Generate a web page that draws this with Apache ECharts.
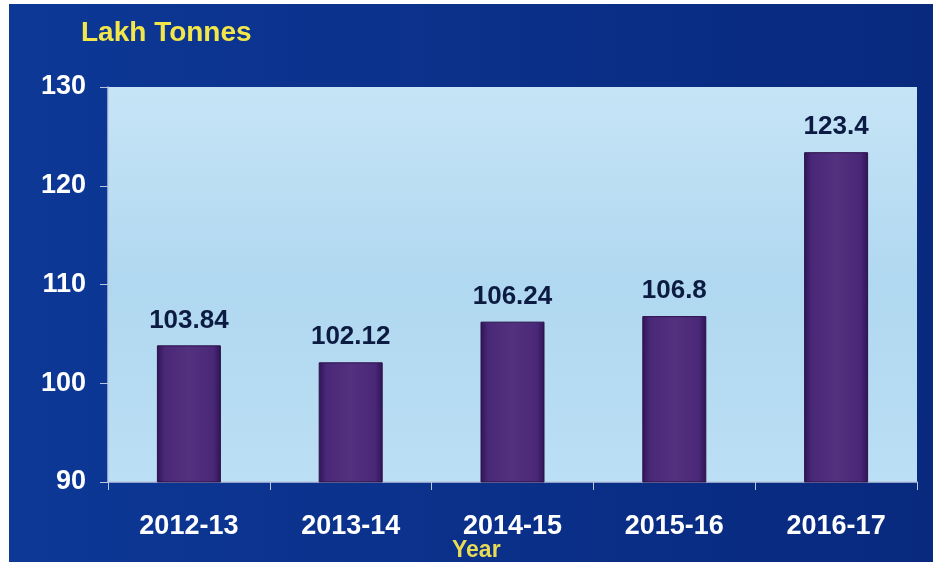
<!DOCTYPE html>
<html>
<head>
<meta charset="utf-8">
<script src="https://cdn.jsdelivr.net/npm/echarts@6/dist/echarts.min.js"></script>
<style>
html,body{margin:0;padding:0;background:#ffffff;}
#c{width:933px;height:562px;}
</style>
</head>
<body>
<div id="c"></div>
<script>
var categories = ['2012-13', '2013-14', '2014-15', '2015-16', '2016-17'];
var production = [103.84, 102.12, 106.24, 106.8, 123.4];
var yTicks = [90, 100, 110, 120, 130];
var yAxisName = 'Lakh Tonnes';
var xAxisName = 'Year';

var chart = echarts.init(document.getElementById('c'), null, {renderer: 'canvas'});
var font = 'Liberation Sans, Arial, sans-serif';
chart.setOption({
  backgroundColor: '#ffffff',
  animation: false,
  graphic: [
    {type: 'rect', z: -10, shape: {x: 9, y: 4, width: 924, height: 558},
     style: {fill: new echarts.graphic.LinearGradient(0, 0, 1, 0, [
       {offset: 0, color: '#0d3896'}, {offset: 1, color: '#08297e'}])}},
    {type: 'text', left: 81, top: 19, z: 10,
     style: {text: yAxisName, fill: '#f2e64a', font: 'bold 28px ' + font}},
    {type: 'text', left: 452, top: 539, z: 10,
     style: {text: xAxisName, fill: '#e9dc55', font: 'bold 23px ' + font}}
  ],
  grid: {
    left: 108, right: 16, top: 87, bottom: 80, show: true,
    backgroundColor: new echarts.graphic.LinearGradient(0, 0, 0, 1, [
      {offset: 0, color: '#c6e4f6'}, {offset: 0.5, color: '#b0d8f0'}, {offset: 1, color: '#bbdff4'}]),
    borderWidth: 0
  },
  xAxis: {
    type: 'category', data: categories,
    axisLine: {lineStyle: {color: '#b8c8e0', width: 1.5}},
    axisTick: {show: true, length: 8, lineStyle: {color: '#b8c8e0'}},
    axisLabel: {color: '#ffffff', fontWeight: 'bold', fontSize: 27, fontFamily: font, margin: 31}
  },
  yAxis: {
    type: 'value', min: yTicks[0], max: yTicks[yTicks.length - 1], interval: 10,
    splitLine: {show: false},
    axisLine: {show: true, lineStyle: {color: '#b8c8e0', width: 1.5}},
    axisTick: {show: true, length: 8, lineStyle: {color: '#b8c8e0'}},
    axisLabel: {color: '#ffffff', fontWeight: 'bold', fontSize: 27, fontFamily: font, margin: 22}
  },
  series: [{
    type: 'bar', data: production, barWidth: 64,
    itemStyle: {
      color: new echarts.graphic.LinearGradient(0, 0, 1, 0, [
        {offset: 0, color: '#2f1456'}, {offset: 0.12, color: '#4a2878'},
        {offset: 0.5, color: '#54317f'}, {offset: 0.88, color: '#4a2878'}, {offset: 1, color: '#2f1456'}]),
      borderColor: '#2a1148', borderWidth: 1
    },
    label: {show: true, position: 'top', distance: 12, color: '#0c1b42', fontWeight: 'bold',
            fontSize: 26, fontFamily: font,
            formatter: function (p) { return String(p.value); }}
  }]
});
</script>
</body>
</html>
